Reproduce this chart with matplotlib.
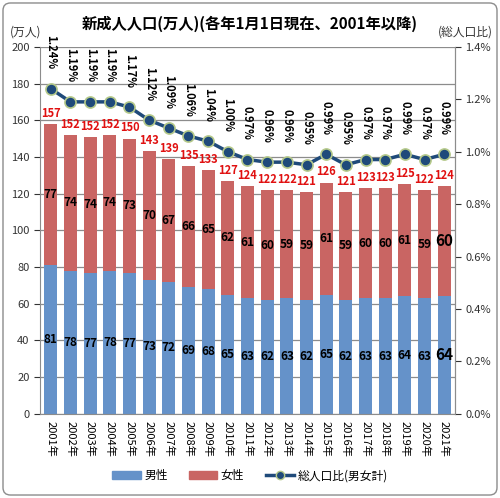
import matplotlib
matplotlib.use('Agg')
import matplotlib.pyplot as plt
from matplotlib.patches import FancyBboxPatch
from matplotlib.lines import Line2D
from matplotlib.patches import Patch

plt.rcParams['font.family'] = ['Noto Sans CJK JP', 'DejaVu Sans']

years = [f'{y}年' for y in range(2001, 2022)]
male = [81, 78, 77, 78, 77, 73, 72, 69, 68, 65, 63, 62, 63, 62, 65, 62, 63, 63, 64, 63, 64]
female = [77, 74, 74, 74, 73, 70, 67, 66, 65, 62, 61, 60, 59, 59, 61, 59, 60, 60, 61, 59, 60]
total = [157, 152, 152, 152, 150, 143, 139, 135, 133, 127, 124, 122, 122, 121, 126, 121, 123, 123, 125, 122, 124]
ratio = [1.24, 1.19, 1.19, 1.19, 1.17, 1.12, 1.09, 1.06, 1.04, 1.00, 0.97, 0.96, 0.96, 0.95,
         0.99, 0.95, 0.97, 0.97, 0.99, 0.97, 0.99]

c_male = '#6592C9'
c_female = '#C96563'
c_line = '#1F4A7A'

fig = plt.figure(figsize=(5, 4.98), dpi=100)
fig.patches.append(FancyBboxPatch((0.006, 0.006), 0.988, 0.988, boxstyle='round,pad=0,rounding_size=0.015',
                                  transform=fig.transFigure, fill=False, edgecolor='#8c8c8c', lw=1))
ax = fig.add_axes([0.08, 0.169, 0.83, 0.737])
x = list(range(len(years)))

ax.bar(x, male, width=0.65, color=c_male, zorder=2)
ax.bar(x, female, width=0.65, bottom=male, color=c_female, zorder=2)
ax.set_ylim(0, 200)
ax.set_xlim(-0.55, len(years) - 0.45)
ax.set_yticks(range(0, 201, 20))
ax.grid(axis='y', color='#8c8c8c', lw=0.9, zorder=0)
ax.set_xticks(x)
ax.set_xticklabels(years, rotation=-90, fontsize=8)
ax.tick_params(axis='y', labelsize=8, colors='#333333', length=4)
ax.tick_params(axis='x', length=0, pad=5)
for s in ['top']:
    ax.spines[s].set_visible(False)
for s in ['left', 'right', 'bottom']:
    ax.spines[s].set_color('#8c8c8c')

for i in x:
    big = 11 if i == len(x) - 1 else 8.5
    ax.text(i, male[i] / 2, str(male[i]), ha='center', va='center', fontsize=big,
            fontweight='bold', color='black', zorder=4)
    ax.text(i, male[i] + female[i] / 2, str(female[i]), ha='center', va='center', fontsize=big,
            fontweight='bold', color='black', zorder=4)
    ax.annotate(str(total[i]), (i, male[i] + female[i]), xytext=(0, 3), textcoords='offset points',
                ha='center', va='bottom', fontsize=8, fontweight='bold', color='#E01010', zorder=4)

ax2 = ax.twinx()
ax2.plot(x, ratio, color=c_line, lw=2.5, marker='o', ms=8, mfc=c_line, mec='#B5C98A', mew=1.2, zorder=5)
ax2.set_ylim(0, 1.4)
ax2.set_yticks([i * 0.2 for i in range(8)])
ax2.set_yticklabels([f'{i * 0.2:.1f}%' for i in range(8)])
ax2.tick_params(axis='y', labelsize=8, colors='#333333', length=4)
for s in ['top', 'left', 'bottom']:
    ax2.spines[s].set_visible(False)
ax2.spines['right'].set_color('#8c8c8c')
for i in x:
    ax2.annotate(f'{ratio[i]:.2f}%', (i, ratio[i]), xytext=(0, 14), textcoords='offset points',
                 rotation=-90, ha='center', va='bottom', fontsize=8, fontweight='bold', color='black')

fig.text(0.5, 0.952, '新成人人口(万人)(各年1月1日現在、2001年以降)', ha='center', va='center',
         fontsize=11, fontweight='bold')
fig.text(0.02, 0.935, '(万人)', ha='left', va='center', fontsize=8.5, color='#333333')
fig.text(0.985, 0.935, '(総人口比)', ha='right', va='center', fontsize=8.5, color='#333333')

handles = [Patch(color=c_male, label='男性'), Patch(color=c_female, label='女性'),
           Line2D([0], [0], color=c_line, lw=2.5, marker='o', ms=6, mfc=c_line, mec='#B5C98A',
                  label='総人口比(男女計)')]
fig.legend(handles=handles, loc='center', bbox_to_anchor=(0.5, 0.045), ncol=3, frameon=False,
           fontsize=8.5, handlelength=2.4, columnspacing=1.8, handletextpad=0.3)

fig.savefig('out.png', dpi=100)
